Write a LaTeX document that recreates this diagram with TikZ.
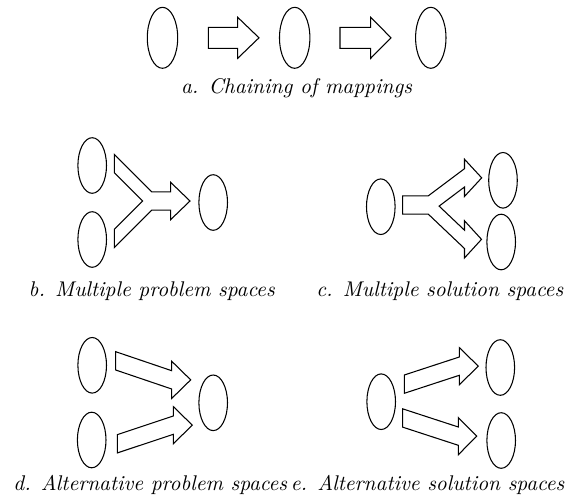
\documentclass[tikz,border=0pt]{standalone}
\usetikzlibrary{shapes.geometric}

\tikzset{
  spaceell/.style={ellipse, draw, line width=0.5pt, inner sep=0pt,
    minimum width=28.6*0.47pt, minimum height=55.6*0.47pt},
  bigell/.style={spaceell, minimum width=30.4*0.47pt, minimum height=61*0.47pt},
  fat/.style={draw, line width=0.5pt, line join=miter},
  captext/.style={font=\itshape, anchor=base west, inner sep=0pt}
}
% half widths of shaft and head
\newcommand{\shw}{9.15}
\newcommand{\hhw}{18.6}
% tail x,y ; head base x,y ; tip x
\newcommand{\fatarrow}[5]{%
  \draw[fat] (#1,#2-\shw) -- (#3,#4-\shw) -- (#3,#4-\hhw) -- (#5,#4)
    -- (#3,#4+\hhw) -- (#3,#4+\shw) -- (#1,#2+\shw) -- cycle;}

\begin{document}
\begin{tikzpicture}[x=0.47pt, y=-0.47pt]
  \useasboundingbox (0,0) rectangle (584,503);

  % a. chain
  \node[bigell] (a1) at (162.5,37.8) {};
  \node[bigell] (a2) at (294.7,37.8) {};
  \node[bigell] (a3) at (430.8,37.8) {};
  {\renewcommand{\shw}{10.5}\renewcommand{\hhw}{20.5}
   \fatarrow{208.3}{37.8}{237.7}{37.8}{259}
   \fatarrow{340}{37.8}{370.7}{37.8}{391}}
  \node[captext] (capa) at (180.7,93.3) {a. Chaining of mappings};

  % b. two problem spaces, one solution
  \node[spaceell] (b1) at (92.2,165.5) {};
  \node[spaceell] (b2) at (92.2,239.5) {};
  \node[spaceell] (b3) at (213.2,202.5) {};
  \draw[fat] (114.3,154.45) -- (114.3,172.75) -- (142.55,201)
    -- (114.3,229.25) -- (114.3,247.55) -- (151.7,210.15)
    -- (170.7,210.15) -- (170.7,219.6) -- (190,201) -- (170.7,182.4)
    -- (170.7,191.85) -- (151.7,191.85) -- cycle;
  \node[captext] (capb) at (28.3,296.3) {b. Multiple problem spaces};

  % c. one problem space, two solutions
  \node[spaceell] (c1) at (380.8,206.7) {};
  \node[spaceell] (c2) at (503,180.3) {};
  \node[spaceell] (c3) at (501.2,242) {};
  \draw[fat] (402.7,195.85) -- (428.3,195.85) -- (464.5,168.7)
    -- (464.5,159.25) -- (481.7,177.85) -- (464.5,196.45)
    -- (464.5,187) -- (439.1,206.1) -- (464.5,230.2)
    -- (464.5,220.75) -- (481.5,239.35) -- (464.5,257.95)
    -- (464.5,248.5) -- (428.3,214.15) -- (402.7,214.15) -- cycle;
  \node[captext] (capc) at (316,296.3) {c. Multiple solution spaces};

  % d. alternatives on the problem side
  \node[spaceell] (d1) at (92.2,365.3) {};
  \node[spaceell] (d2) at (91.7,440) {};
  \node[spaceell] (d3) at (213.2,402.8) {};
  \fatarrow{115.7}{360.85}{171.7}{379.85}{190.7}
  \fatarrow{117.3}{443.8}{173.3}{425.15}{192.3}
  \node[captext] (capd) at (13,490) {d. Alternative problem spaces};

  % e. alternatives on the solution side
  \node[spaceell] (e1) at (381.2,401.7) {};
  \node[spaceell] (e2) at (500.3,367.5) {};
  \node[spaceell] (e3) at (501.2,440.5) {};
  \fatarrow{404.3}{384.15}{459.3}{366.15}{478.3}
  \fatarrow{402.7}{418}{458.3}{436.15}{476.7}
  \node[captext] (cape) at (290.5,490) {e. Alternative solution spaces};
\end{tikzpicture}
\end{document}
